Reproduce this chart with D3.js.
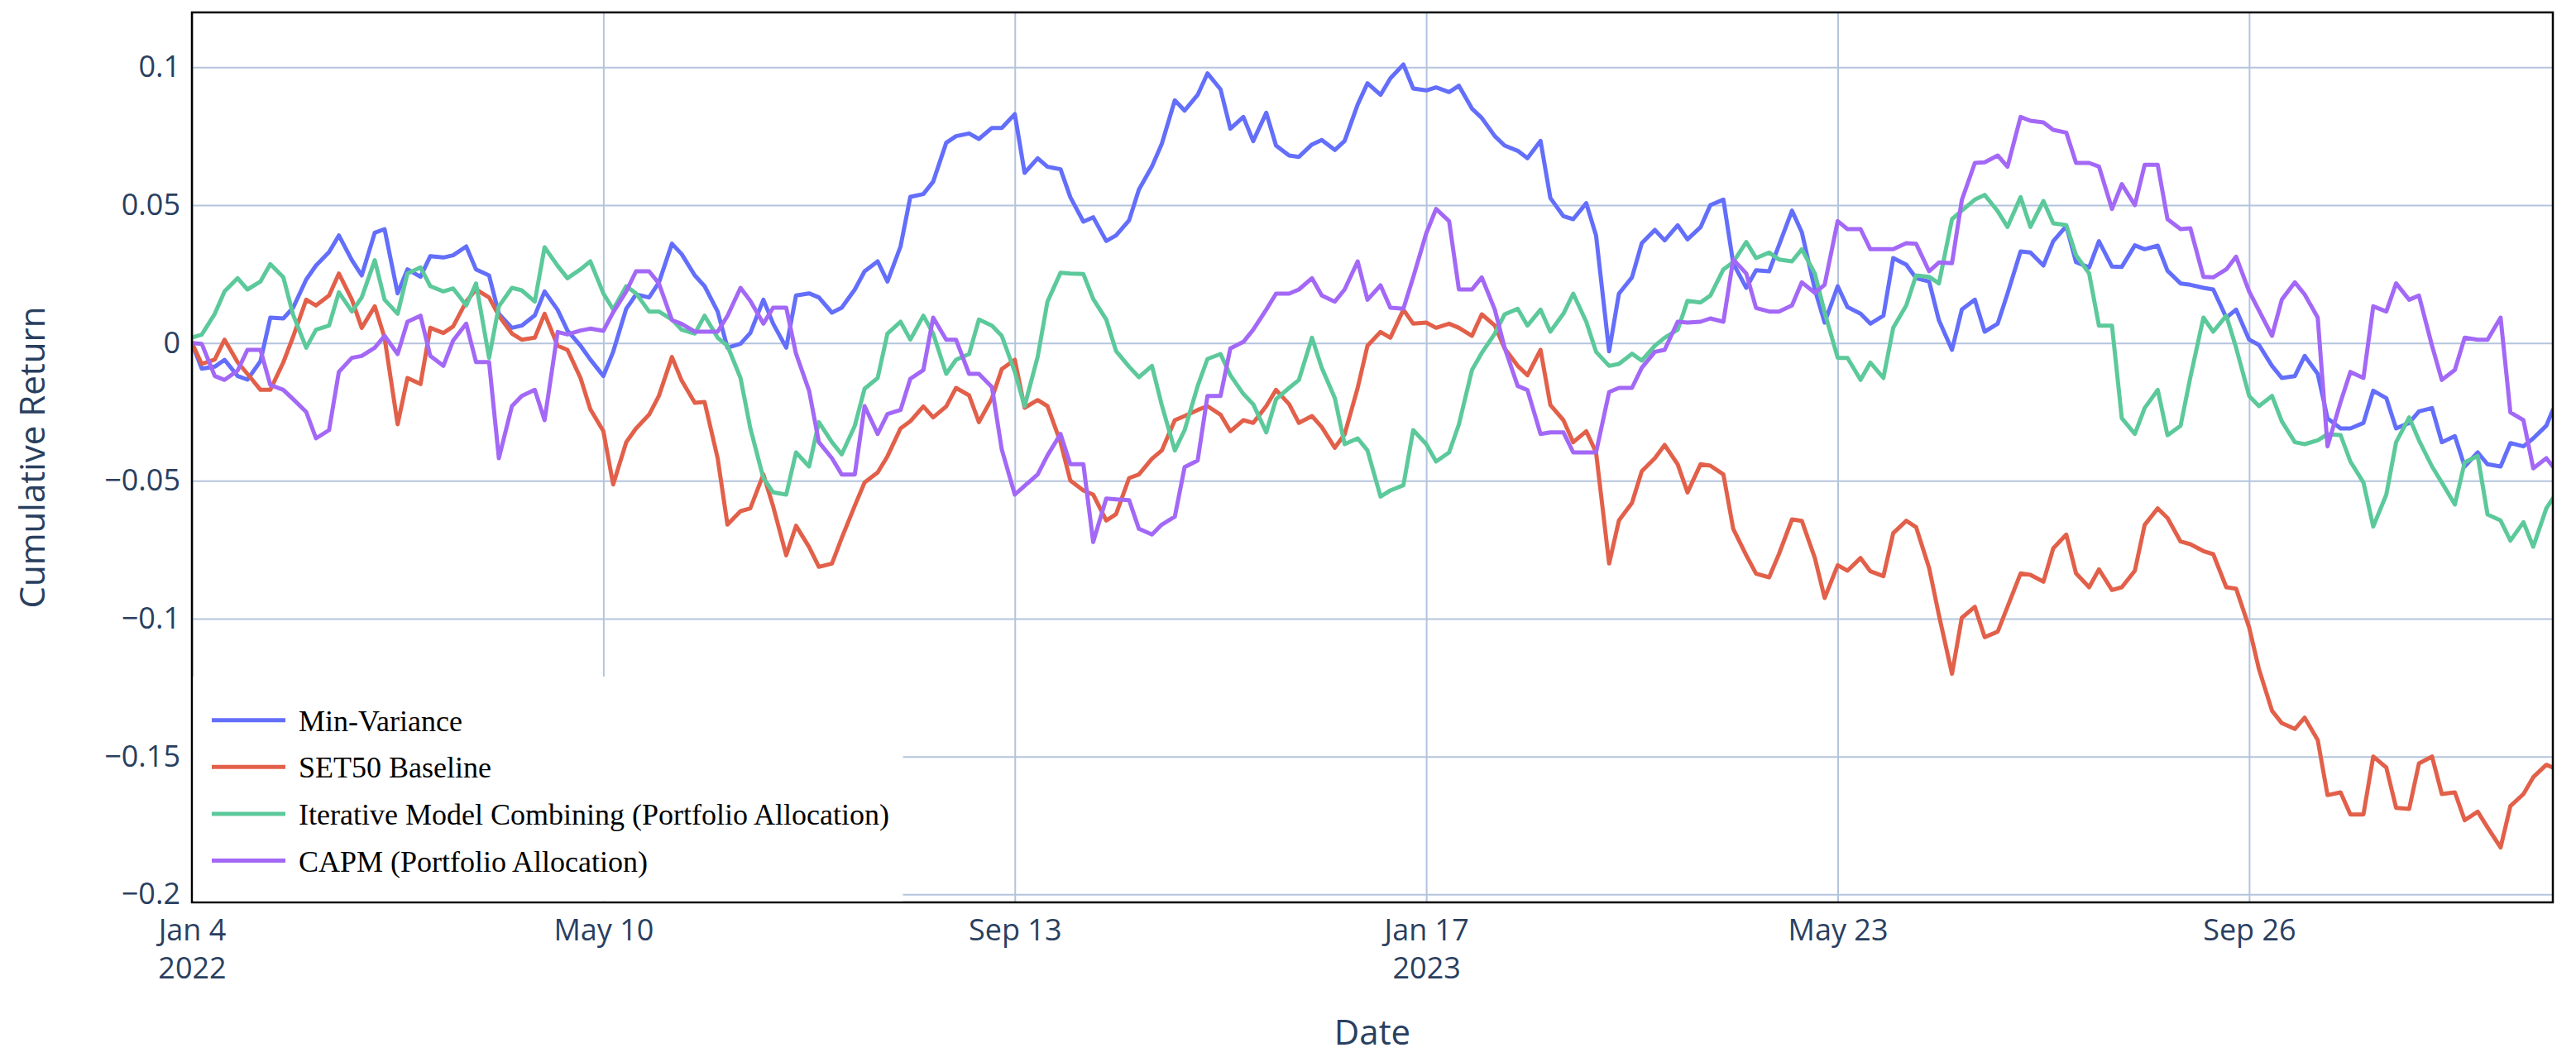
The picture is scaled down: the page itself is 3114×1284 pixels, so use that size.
<!DOCTYPE html>
<html>
<head>
<meta charset="utf-8">
<script src="https://cdn.jsdelivr.net/npm/d3@7"></script>
<style>
  html, body { margin: 0; padding: 0; background: #ffffff; }
  svg { display: block; }
</style>
</head>
<body>
<svg id="chart" width="3114" height="1284"></svg>
<script>
// ---- DATA (read twice a week: Tuesday / Friday) ----
const dates = [
"2022-01-04","2022-01-07","2022-01-11","2022-01-14","2022-01-18","2022-01-21","2022-01-25","2022-01-28",
"2022-02-01","2022-02-04","2022-02-08","2022-02-11","2022-02-15","2022-02-18","2022-02-22","2022-02-25",
"2022-03-01","2022-03-04","2022-03-08","2022-03-11","2022-03-15","2022-03-18","2022-03-22","2022-03-25","2022-03-29","2022-04-01",
"2022-04-05","2022-04-08","2022-04-12","2022-04-15","2022-04-19","2022-04-22","2022-04-26","2022-04-29",
"2022-05-03","2022-05-06","2022-05-10","2022-05-13","2022-05-17","2022-05-20","2022-05-24","2022-05-27","2022-05-31","2022-06-03",
"2022-06-07","2022-06-10","2022-06-14","2022-06-17","2022-06-21","2022-06-24","2022-06-28","2022-07-01",
"2022-07-05","2022-07-08","2022-07-12","2022-07-15","2022-07-19","2022-07-22","2022-07-26","2022-07-29",
"2022-08-02","2022-08-05","2022-08-09","2022-08-12","2022-08-16","2022-08-19","2022-08-23","2022-08-26","2022-08-30","2022-09-02",
"2022-09-06","2022-09-09","2022-09-13","2022-09-16","2022-09-20","2022-09-23","2022-09-27","2022-09-30",
"2022-10-04","2022-10-07","2022-10-11","2022-10-14","2022-10-18","2022-10-21","2022-10-25","2022-10-28",
"2022-11-01","2022-11-04","2022-11-08","2022-11-11","2022-11-15","2022-11-18","2022-11-22","2022-11-25","2022-11-29","2022-12-02",
"2022-12-06","2022-12-09","2022-12-13","2022-12-16","2022-12-20","2022-12-23","2022-12-27","2022-12-30",
"2023-01-03","2023-01-06","2023-01-10","2023-01-13","2023-01-17","2023-01-20","2023-01-24","2023-01-27","2023-01-31","2023-02-03",
"2023-02-07","2023-02-10","2023-02-14","2023-02-17","2023-02-21","2023-02-24","2023-02-28","2023-03-03",
"2023-03-07","2023-03-10","2023-03-14","2023-03-17","2023-03-21","2023-03-24","2023-03-28","2023-03-31",
"2023-04-04","2023-04-07","2023-04-11","2023-04-14","2023-04-18","2023-04-21","2023-04-25","2023-04-28",
"2023-05-02","2023-05-05","2023-05-09","2023-05-12","2023-05-16","2023-05-19","2023-05-23","2023-05-26","2023-05-30","2023-06-02",
"2023-06-06","2023-06-09","2023-06-13","2023-06-16","2023-06-20","2023-06-23","2023-06-27","2023-06-30",
"2023-07-04","2023-07-07","2023-07-11","2023-07-14","2023-07-18","2023-07-21","2023-07-25","2023-07-28",
"2023-08-01","2023-08-04","2023-08-08","2023-08-11","2023-08-15","2023-08-18","2023-08-22","2023-08-25","2023-08-29","2023-09-01",
"2023-09-05","2023-09-08","2023-09-12","2023-09-15","2023-09-19","2023-09-22","2023-09-26","2023-09-29",
"2023-10-03","2023-10-06","2023-10-10","2023-10-13","2023-10-17","2023-10-20","2023-10-24","2023-10-27","2023-10-31","2023-11-03",
"2023-11-07","2023-11-10","2023-11-14","2023-11-17","2023-11-21","2023-11-24","2023-11-28","2023-12-01",
"2023-12-05","2023-12-08","2023-12-12","2023-12-15","2023-12-19","2023-12-22","2023-12-26","2023-12-28"
];

const minVariance = [
0.000,-0.0093,-0.0086,-0.0061,-0.012,-0.0133,-0.0066,0.0092,
0.0089,0.0128,0.023,0.0281,0.033,0.039,0.030,0.0245,
0.040,0.0413,0.018,0.0267,0.024,0.0315,0.031,0.0318,0.035,0.0267,
0.0245,0.0106,0.0055,0.0063,0.010,0.0187,0.012,0.0045,
-0.001,-0.006,-0.012,-0.0032,0.0124,0.0176,0.0165,0.0219,0.036,0.0322,
0.0245,0.0206,0.0114,-0.0017,-0.0003,0.0036,0.0157,0.007,
-0.0017,0.0172,0.018,0.0165,0.011,0.0128,0.0194,0.026,
0.0296,0.0223,0.035,0.053,0.054,0.0585,0.0726,0.075,0.076,0.074,
0.078,0.078,0.083,0.0617,0.067,0.0639,0.063,0.0529,
0.044,0.0456,0.037,0.039,0.0445,0.0556,0.064,0.0722,
0.088,0.0843,0.090,0.0978,0.092,0.0777,0.082,0.0732,0.0835,0.0716,
0.068,0.0675,0.072,0.0736,0.070,0.0733,0.0865,0.0942,
0.090,0.096,0.101,0.0923,0.0916,0.0927,0.091,0.0933,0.085,0.0816,
0.075,0.0716,0.0697,0.067,0.0733,0.0526,0.046,0.0449,
0.0507,0.039,-0.003,0.0179,0.0238,0.0362,0.041,0.0372,
0.0427,0.0376,0.042,0.050,0.052,0.0289,0.020,0.0264,
0.026,0.0354,0.048,0.0402,0.0194,0.0074,0.0206,0.013,0.0106,0.007,
0.0099,0.0308,0.0284,0.0235,0.0223,0.0082,-0.0025,0.0121,
0.0157,0.0041,0.007,0.0179,0.0332,0.0328,0.0281,0.0369,
0.0424,0.0293,0.0274,0.0369,0.0277,0.0276,0.0354,0.034,0.0353,0.0262,
0.0216,0.0211,0.020,0.0194,0.0092,0.0121,0.0012,-0.0007,
-0.0083,-0.0127,-0.012,-0.0047,-0.0112,-0.0273,-0.031,-0.031,-0.029,-0.0173,
-0.020,-0.031,-0.029,-0.0248,-0.0236,-0.036,-0.0338,-0.0448,
-0.0397,-0.044,-0.0448,-0.0363,-0.0375,-0.0346,-0.030,-0.0243
];

const set50Baseline = [
0.000,-0.0076,-0.006,0.0012,-0.007,-0.0112,-0.017,-0.017,
-0.007,0.0023,0.0157,0.0136,0.0172,0.0252,0.0157,0.0055,
0.0133,0.0019,-0.0295,-0.0127,-0.0149,0.0055,0.0036,0.006,0.015,0.0194,
0.0165,0.0099,0.0034,0.0012,0.0019,0.0106,-0.001,-0.0025,
-0.0127,-0.024,-0.032,-0.0513,-0.036,-0.031,-0.026,-0.0192,-0.0051,-0.0137,
-0.0217,-0.0214,-0.0418,-0.0659,-0.061,-0.060,-0.0477,-0.0593,
-0.077,-0.0663,-0.074,-0.0812,-0.080,-0.0707,-0.059,-0.0506,
-0.047,-0.0411,-0.031,-0.0284,-0.023,-0.027,-0.023,-0.0163,-0.019,-0.0287,
-0.020,-0.0095,-0.0061,-0.0235,-0.0207,-0.0229,-0.036,-0.0499,
-0.0535,-0.055,-0.0644,-0.0621,-0.049,-0.0477,-0.042,-0.039,
-0.028,-0.0265,-0.0243,-0.0229,-0.026,-0.032,-0.028,-0.029,-0.0229,-0.017,
-0.0222,-0.029,-0.0265,-0.0305,-0.038,-0.0331,-0.0163,-0.001,
0.004,0.0019,0.0121,0.007,0.0074,0.0055,0.007,0.0055,0.0026,0.0104,
0.0063,-0.002,-0.0083,-0.0117,-0.0025,-0.0225,-0.028,-0.036,
-0.032,-0.0397,-0.080,-0.0644,-0.058,-0.0465,-0.0418,-0.037,
-0.044,-0.0542,-0.044,-0.0445,-0.0477,-0.0674,-0.077,-0.0837,
-0.085,-0.0766,-0.064,-0.0645,-0.078,-0.0925,-0.0806,-0.0826,-0.078,-0.0828,
-0.0846,-0.069,-0.0645,-0.0668,-0.0816,-0.0987,-0.120,-0.0997,
-0.0957,-0.1067,-0.1047,-0.0957,-0.0836,-0.0841,-0.0866,-0.0745,
-0.0695,-0.0836,-0.0886,-0.0821,-0.0896,-0.0886,-0.0826,-0.066,-0.060,-0.0635,
-0.072,-0.073,-0.0755,-0.0766,-0.0886,-0.0891,-0.1032,-0.1183,
-0.1334,-0.1379,-0.140,-0.1359,-0.144,-0.164,-0.163,-0.171,-0.171,-0.150,
-0.154,-0.1686,-0.169,-0.1525,-0.150,-0.1636,-0.163,-0.1731,
-0.170,-0.1757,-0.183,-0.168,-0.1636,-0.1575,-0.153,-0.154
];

const iterativeModel = [
0.002,0.003,0.0106,0.0187,0.0235,0.0194,0.0223,0.0286,
0.0238,0.0102,-0.0017,0.0048,0.0063,0.0184,0.0114,0.0165,
0.030,0.0157,0.0106,0.0252,0.0274,0.0206,0.0187,0.0198,0.0136,0.0216,
-0.0054,0.0133,0.020,0.0191,0.015,0.0347,0.028,0.0235,
0.0267,0.0296,0.018,0.0121,0.0206,0.018,0.0114,0.0114,0.0085,0.0048,
0.0034,0.0099,0.0019,-0.001,-0.0127,-0.0309,-0.049,-0.0542,
-0.055,-0.0397,-0.0448,-0.0287,-0.036,-0.0404,-0.030,-0.0166,
-0.0127,0.0034,0.0077,0.0012,0.0099,0.0034,-0.0112,-0.0061,-0.004,0.0085,
0.0063,0.0026,-0.0105,-0.0229,-0.005,0.015,0.0255,0.0252,
0.025,0.016,0.0085,-0.0029,-0.0086,-0.0124,-0.0083,-0.0225,
-0.039,-0.0316,-0.0156,-0.0058,-0.004,-0.0117,-0.0185,-0.0222,-0.0324,-0.0204,
-0.0163,-0.0134,0.0019,-0.009,-0.020,-0.0367,-0.0346,-0.039,
-0.0557,-0.0535,-0.0516,-0.0316,-0.0367,-0.043,-0.0397,-0.0295,-0.0098,-0.0036,
0.0034,0.0104,0.0124,0.0063,0.0121,0.0041,0.0106,0.0179,
0.0077,-0.0032,-0.0083,-0.0076,-0.0039,-0.0064,-0.001,0.0019,
0.0048,0.0153,0.0147,0.0172,0.0267,0.0293,0.0366,0.0308,
0.0328,0.0303,0.0296,0.034,0.0252,0.0111,-0.0054,-0.0054,-0.0134,-0.0071,
-0.0127,0.0055,0.0136,0.0245,0.024,0.0216,0.0449,0.048,
0.052,0.0537,0.0478,0.0421,0.0529,0.0421,0.0515,0.0434,
0.0427,0.0318,0.0252,0.0063,0.0063,-0.0273,-0.033,-0.0236,-0.017,-0.0335,
-0.030,-0.0124,0.0092,0.0041,0.0099,-0.0017,-0.0192,-0.0229,
-0.0192,-0.0284,-0.036,-0.0367,-0.0353,-0.0331,-0.0334,-0.043,-0.0506,-0.0666,
-0.055,-0.036,-0.027,-0.0353,-0.0448,-0.0506,-0.0586,-0.0433,
-0.041,-0.0622,-0.0644,-0.0717,-0.065,-0.0739,-0.060,-0.0564
];

const capm = [
0.000,-0.0003,-0.012,-0.0134,-0.010,-0.0025,-0.0025,-0.0152,
-0.017,-0.0204,-0.025,-0.0346,-0.0316,-0.0105,-0.0054,-0.0047,
-0.0017,0.0026,-0.004,0.0077,0.0099,-0.0047,-0.0083,0.0009,0.007,-0.0069,
-0.0069,-0.0418,-0.0229,-0.0192,-0.017,-0.028,0.004,0.0031,
0.0045,0.0052,0.0044,0.0111,0.0187,0.026,0.026,0.0216,0.0083,0.0069,
0.0041,0.0041,0.0041,0.0098,0.020,0.0153,0.007,0.0128,
0.0128,-0.0039,-0.0173,-0.036,-0.0418,-0.0477,-0.0477,-0.0229,
-0.033,-0.0258,-0.0243,-0.013,-0.0098,0.0092,0.0012,0.0012,-0.0112,-0.0112,
-0.016,-0.0386,-0.055,-0.0518,-0.0477,-0.0408,-0.033,-0.044,
-0.044,-0.0722,-0.0564,-0.0567,-0.057,-0.0674,-0.0695,-0.0659,
-0.063,-0.045,-0.0426,-0.0192,-0.0192,-0.002,0.0004,0.0048,0.0121,0.0179,
0.0179,0.0194,0.0235,0.0172,0.015,0.0194,0.0296,0.0157,
0.0209,0.0128,0.0124,0.0238,0.0398,0.0486,0.0442,0.0194,0.0194,0.0238,
0.0121,-0.0017,-0.0156,-0.0171,-0.033,-0.0324,-0.0324,-0.0397,
-0.0397,-0.0397,-0.0178,-0.0163,-0.0163,-0.009,-0.0032,-0.0025,
0.0077,0.0074,0.0077,0.0089,0.0077,0.0303,0.0252,0.0127,
0.0114,0.0114,0.0136,0.022,0.0182,0.0211,0.0442,0.0413,0.0413,0.034,
0.034,0.034,0.0362,0.036,0.026,0.0292,0.0289,0.0518,
0.0653,0.0655,0.068,0.0639,0.082,0.0806,0.080,0.0773,
0.0763,0.0653,0.0653,0.064,0.0486,0.0576,0.050,0.0646,0.0646,0.0449,
0.0413,0.0416,0.024,0.0238,0.0267,0.0313,0.0187,0.0118,
0.0026,0.0157,0.022,0.0176,0.0092,-0.0375,-0.0214,-0.0105,-0.0127,0.0133,
0.0114,0.0216,0.0157,0.0172,-0.001,-0.0134,-0.0098,0.0019,
0.0012,0.0012,0.0092,-0.0252,-0.028,-0.0455,-0.0418,-0.0448
];

const seriesNames = ["Min-Variance", "SET50 Baseline", "Iterative Model Combining (Portfolio Allocation)", "CAPM (Portfolio Allocation)"];
const seriesColors = ["#636efa", "#e2604a", "#5cc99b", "#a368f6"];

const xTickDates = ["2022-01-04","2022-05-10","2022-09-13","2023-01-17","2023-05-23","2023-09-26"];
const xTickLine1 = ["Jan 4","May 10","Sep 13","Jan 17","May 23","Sep 26"];
const xTickLine2 = ["2022","","","2023","",""];
const yTickValues = [0.1, 0.05, 0, -0.05, -0.1, -0.15, -0.2];
const yTickLabels = ["0.1","0.05","0","\u22120.05","\u22120.1","\u22120.15","\u22120.2"];

// ---- LAYOUT ----
const W = 3114, H = 1284;
const plot = { left: 232, right: 3086, top: 15, bottom: 1091 };
const parse = d3.timeParse("%Y-%m-%d");
const dateObjs = dates.map(parse);

const x = d3.scaleTime()
  .domain([parse("2022-01-04"), parse("2023-12-28")])
  .range([plot.left, plot.right]);
const y = d3.scaleLinear()
  .domain([-0.2029, 0.1199])
  .range([plot.bottom, plot.top]);

const svg = d3.select("#chart");
svg.append("rect").attr("width", W).attr("height", H).attr("fill", "#ffffff");

const gridColor = "#b4c4dd";
const textColor = "#2a3f5f";
const font = "'Open Sans', 'Noto Sans', sans-serif";

// grid lines via axes
const yGrid = d3.axisLeft(y).tickValues(yTickValues).tickSize(-(plot.right - plot.left)).tickFormat("");
svg.append("g")
  .attr("transform", `translate(${plot.left},0)`)
  .call(yGrid)
  .call(g => g.select(".domain").remove())
  .call(g => g.selectAll("line").attr("stroke", gridColor).attr("stroke-width", 2));

const xGrid = d3.axisBottom(x).tickValues(xTickDates.map(parse)).tickSize(-(plot.bottom - plot.top)).tickFormat("");
svg.append("g")
  .attr("transform", `translate(0,${plot.bottom})`)
  .call(xGrid)
  .call(g => g.select(".domain").remove())
  .call(g => g.selectAll("line").attr("stroke", gridColor).attr("stroke-width", 2));

// clip
svg.append("clipPath").attr("id", "clip")
  .append("rect")
  .attr("x", plot.left).attr("y", plot.top)
  .attr("width", plot.right - plot.left).attr("height", plot.bottom - plot.top);

const allSeries = [minVariance, set50Baseline, iterativeModel, capm];
const line = d3.line()
  .x((d, i) => x(dateObjs[i]))
  .y(d => y(d));

const dataG = svg.append("g").attr("clip-path", "url(#clip)");
allSeries.forEach((vals, si) => {
  dataG.append("path")
    .datum(vals)
    .attr("d", line)
    .attr("fill", "none")
    .attr("stroke", seriesColors[si])
    .attr("stroke-width", 5)
    .attr("stroke-linejoin", "round")
    .attr("stroke-linecap", "round");
});

// y tick labels
const yAxis = d3.axisLeft(y).tickValues(yTickValues).tickSize(0).tickPadding(14)
  .tickFormat((d, i) => yTickLabels[i]);
svg.append("g")
  .attr("transform", `translate(${plot.left},0)`)
  .call(yAxis)
  .call(g => g.select(".domain").remove())
  .call(g => g.selectAll("text")
    .attr("font-family", font).attr("font-size", 36).attr("fill", textColor));

// x tick labels (two lines)
const xAxis = d3.axisBottom(x).tickValues(xTickDates.map(parse)).tickSize(0).tickFormat("");
const xg = svg.append("g")
  .attr("transform", `translate(0,${plot.bottom})`)
  .call(xAxis)
  .call(g => g.select(".domain").remove());
xg.selectAll(".tick").each(function(d, i) {
  const t = d3.select(this).append("text")
    .attr("font-family", font).attr("font-size", 36).attr("fill", textColor)
    .attr("text-anchor", "middle");
  t.append("tspan").attr("x", 0).attr("y", 46).text(xTickLine1[i]);
  if (xTickLine2[i]) t.append("tspan").attr("x", 0).attr("y", 92).text(xTickLine2[i]);
});

// frame
svg.append("rect")
  .attr("x", plot.left).attr("y", plot.top)
  .attr("width", plot.right - plot.left).attr("height", plot.bottom - plot.top)
  .attr("fill", "none").attr("stroke", "#000000").attr("stroke-width", 2.5);

// axis titles
svg.append("text")
  .attr("x", (plot.left + plot.right) / 2).attr("y", 1263)
  .attr("text-anchor", "middle")
  .attr("font-family", font).attr("font-size", 42).attr("fill", textColor)
  .text("Date");
svg.append("text")
  .attr("transform", `translate(54,${(plot.top + plot.bottom) / 2}) rotate(-90)`)
  .attr("text-anchor", "middle")
  .attr("font-family", font).attr("font-size", 42).attr("fill", textColor)
  .text("Cumulative Return");

// legend
const legend = svg.append("g");
legend.append("rect")
  .attr("x", plot.left + 1.5).attr("y", 818)
  .attr("width", 1090 - plot.left).attr("height", plot.bottom - 818 - 1.5)
  .attr("fill", "#ffffff");
const legendY = [870.7, 927.3, 984, 1040.6];
seriesNames.forEach((name, i) => {
  legend.append("line")
    .attr("x1", 256).attr("x2", 345)
    .attr("y1", legendY[i]).attr("y2", legendY[i])
    .attr("stroke", seriesColors[i]).attr("stroke-width", 5);
  legend.append("text")
    .attr("x", 361).attr("y", legendY[i] + 13)
    .attr("font-family", "'Liberation Serif', 'Times New Roman', serif")
    .attr("font-size", 36).attr("fill", "#000000")
    .text(name);
});
</script>
</body>
</html>
